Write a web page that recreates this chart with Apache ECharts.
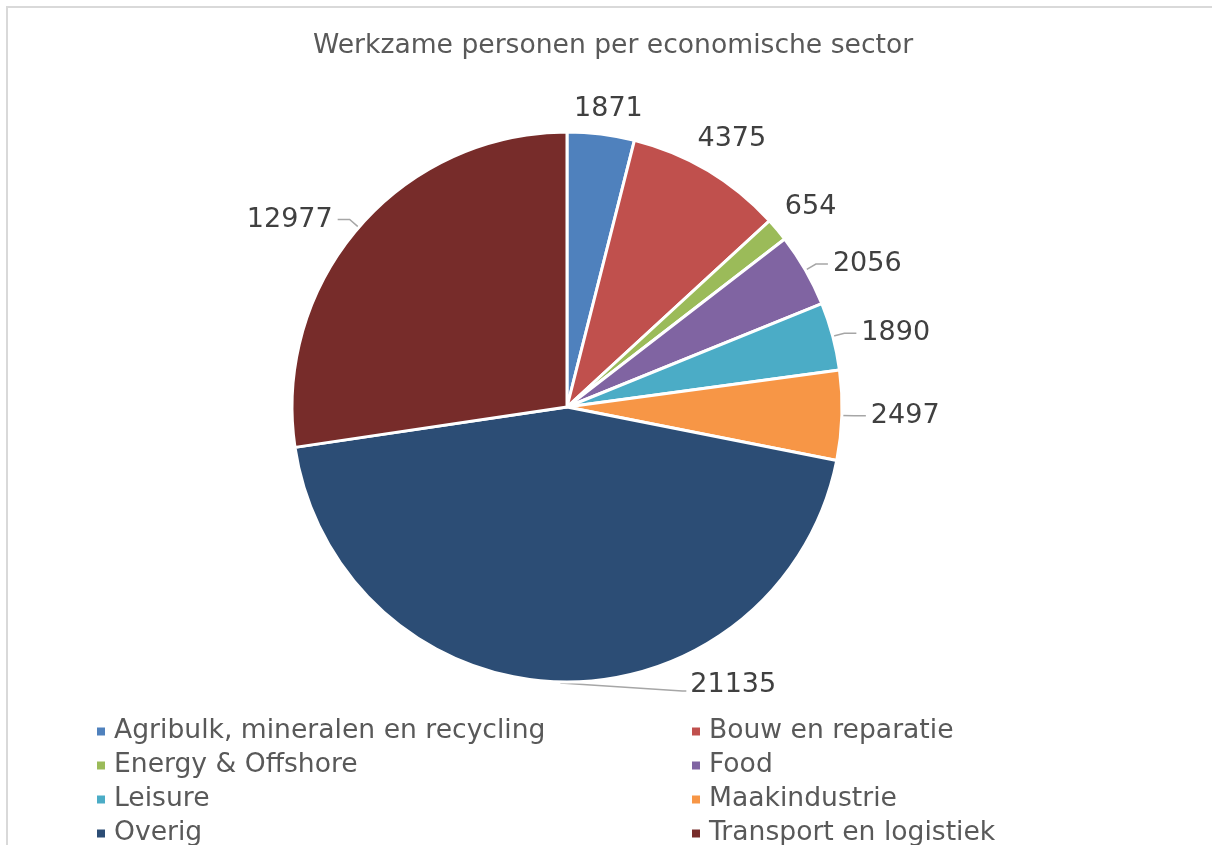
<!DOCTYPE html>
<html>
<head>
<meta charset="utf-8">
<script src="https://cdn.jsdelivr.net/npm/echarts@6/dist/echarts.min.js"></script>
<style>
html,body{margin:0;padding:0;background:#fff;}
#chart{width:1212px;height:845px;}
</style>
</head>
<body>
<div id="chart"></div>
<script>
const titleText = 'Werkzame personen per economische sector';
const categories = ['Agribulk, mineralen en recycling','Bouw en reparatie','Energy & Offshore','Food','Leisure','Maakindustrie','Overig','Transport en logistiek'];
const values = [1871, 4375, 654, 2056, 1890, 2497, 21135, 12977];
const colors = ['#4F81BD','#C0504D','#9BBB59','#8064A2','#4BACC6','#F79646','#2C4D75','#772C2A'];
const legendLeft = [categories[0], categories[2], categories[4], categories[6]];
const legendRight = [categories[1], categories[3], categories[5], categories[7]];

const FONT = '"DejaVu Sans", Verdana, sans-serif';
const CENTER = [567, 407];
const RADIUS = 275;
const NO_LINE = [0, 1, 2];      // labels placed at the outside end, without leader line
const SHIFTED_RIGHT = [6];       // label moved to the right of its slice

const total = values.reduce((a, b) => a + b, 0);
function midDir(i) {
  let before = 0;
  for (let k = 0; k < i; k++) before += values[k];
  const frac = (before + values[i] / 2) / total;
  const a = frac * 2 * Math.PI; // clockwise from 12 o'clock
  return [Math.sin(a), -Math.cos(a)];
}

const chart = echarts.init(document.getElementById('chart'), null, {renderer:'canvas'});

const legendCommon = {
  orient: 'vertical',
  top: 718,
  height: 200,
  padding: 0,
  itemWidth: 10,
  itemHeight: 10,
  itemGap: 7,
  icon: 'rect',
  textStyle: {fontFamily: FONT, fontSize: 26.6, color: '#595959', lineHeight: 27, padding:[0,0,0,3]},
  selectedMode: false
};

chart.setOption({
  animation: false,
  color: colors,
  title: {
    text: titleText,
    left: 308,
    top: 28,
    textStyle: {fontFamily: FONT, fontSize: 26.6, fontWeight: 'normal', color: '#595959'}
  },
  graphic: [{
    type: 'rect',
    shape: {x: 7, y: 7, width: 1400, height: 1000},
    style: {fill: 'none', stroke: '#d9d9d9', lineWidth: 2},
    silent: true
  }],
  legend: [
    Object.assign({left: 95, data: legendLeft}, legendCommon),
    Object.assign({left: 690, data: legendRight}, legendCommon)
  ],
  series: [{
    type: 'pie',
    center: CENTER,
    radius: [0, RADIUS],
    startAngle: 90,
    clockwise: true,
    avoidLabelOverlap: true,
    itemStyle: {borderColor: '#fff', borderWidth: 3},
    label: {
      show: true,
      position: 'outside',
      formatter: '{c}',
      fontFamily: FONT,
      fontSize: 27,
      color: '#404040'
    },
    labelLine: {
      show: true,
      length: 12,
      length2: 12,
      smooth: false,
      lineStyle: {color: '#A6A6A6', width: 1.5}
    },
    labelLayout: function (p) {
      const i = p.dataIndex;
      const d = midDir(i);
      const ex = CENTER[0] + RADIUS * d[0];
      const ey = CENTER[1] + RADIUS * d[1];
      if (NO_LINE.indexOf(i) >= 0) {
        const w = p.labelRect.width, h = p.labelRect.height;
        const half = Math.abs(d[0]) * w / 2 + Math.abs(d[1]) * h / 2;
        const dist = 10 + half;
        return {x: ex + d[0] * dist + 4, y: ey + d[1] * dist + 2, align: 'center', verticalAlign: 'middle'};
      }
      if (SHIFTED_RIGHT.indexOf(i) >= 0) {
        const lx = ex + 130, ly = ey + 3;
        return {
          x: lx, y: ly, align: 'left', verticalAlign: 'middle',
          labelLinePoints: [[ex, ey + 1], [lx - 8, ly + 6], [lx - 4, ly + 6]]
        };
      }
      return {};
    },
    data: categories.map((c, i) => ({
      name: c,
      value: values[i],
      labelLine: {show: NO_LINE.indexOf(i) < 0}
    }))
  }]
});
</script>
</body>
</html>
